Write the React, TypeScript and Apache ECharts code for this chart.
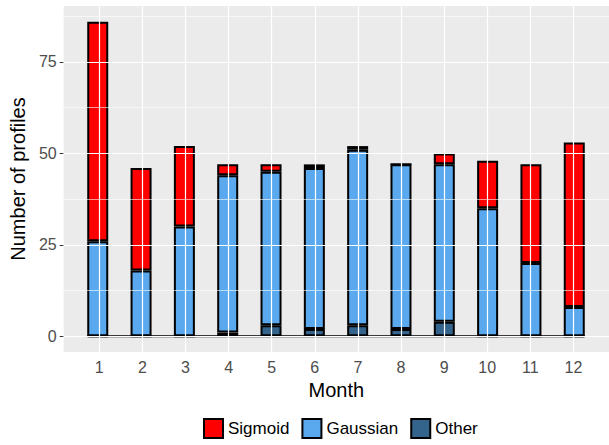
import React, { useEffect, useRef } from "react";
import * as echarts from "echarts";

const months = [1, 2, 3, 4, 5, 6, 7, 8, 9, 10, 11, 12];
const monthLabels = months.map(String);
const otherValues = [0, 0, 0, 1, 3, 2, 3, 2, 4, 0, 0, 0];
const gaussianValues = [26, 18, 30, 43, 42, 44, 48, 45, 43, 35, 20, 8];
const sigmoidValues = [60, 28, 22, 3, 2, 1, 1, 0, 3, 13, 27, 45];
const yTicks = [0, 25, 50, 75];
const yMinor = [12.5, 37.5, 62.5, 87.5];

const FONT = "'Liberation Sans', Arial, Helvetica, sans-serif";
const X_MIN = 0.175;
const X_MAX = 12.825;
const Y_MIN = -4.3;
const Y_MAX = 90.3;
const PANEL_LEFT = 62;
const PANEL_W = 548;
const UNIT = PANEL_W / (X_MAX - X_MIN);

export default function App() {
  const ref = useRef<HTMLDivElement>(null);
  useEffect(() => {
    if (!ref.current) return;
    const chart = echarts.init(ref.current, null, { renderer: "svg" });
    const mkBar = (name: string, vals: number[], color: string) => ({
      name,
      type: "bar",
      stack: "total",
      xAxisIndex: 1,
      yAxisIndex: 1,
      barWidth: 21,
      z: 3,
      data: vals,
      itemStyle: { color, borderColor: "#000", borderWidth: 2 },
      emphasis: { disabled: true },
    });
    const option: any = {
      animation: false,
      backgroundColor: "#fff",
      textStyle: { fontFamily: FONT },
      grid: [
        { left: PANEL_LEFT, top: 6, width: PANEL_W, height: 346, containLabel: false },
        {
          left: PANEL_LEFT + (0.5 - X_MIN) * UNIT,
          top: 6,
          width: 12 * UNIT,
          height: 346,
          containLabel: false,
        },
      ],
      legend: {
        left: 198,
        top: 413,
        data: ["Sigmoid", "Gaussian", "Other"],
        icon: "rect",
        itemWidth: 19,
        itemHeight: 19,
        itemGap: 12,
        selectedMode: false,
        textStyle: { fontSize: 17, color: "#000", fontFamily: FONT },
        itemStyle: { borderColor: "#000", borderWidth: 2 },
      },
      xAxis: [
        {
          type: "value",
          gridIndex: 0,
          min: X_MIN,
          max: X_MAX,
          name: "Month",
          nameLocation: "middle",
          nameGap: 22,
          nameTextStyle: { fontSize: 20, color: "#000", fontFamily: FONT },
          axisLine: { show: false },
          axisTick: { show: true, length: 4, lineStyle: { color: "#333", width: 1 }, customValues: months },
          axisLabel: { customValues: months, fontSize: 16, color: "#4D4D4D", margin: 7, fontFamily: FONT },
          splitLine: { show: false },
        },
        {
          type: "category",
          gridIndex: 1,
          data: monthLabels,
          show: false,
        },
      ],
      yAxis: [
        {
          type: "value",
          gridIndex: 0,
          min: Y_MIN,
          max: Y_MAX,
          name: "Number of profiles",
          nameLocation: "middle",
          nameGap: 34,
          nameTextStyle: { fontSize: 20, color: "#000", fontFamily: FONT },
          axisLine: { show: false },
          axisTick: { show: true, length: 4, lineStyle: { color: "#333", width: 1 }, customValues: yTicks },
          axisLabel: { customValues: yTicks, fontSize: 16, color: "#4D4D4D", margin: 7, fontFamily: FONT },
          splitLine: { show: false },
          splitArea: { show: false },
        },
        {
          type: "value",
          gridIndex: 1,
          min: Y_MIN,
          max: Y_MAX,
          show: false,
          splitLine: { show: false },
        },
      ],
      series: [
        {
          type: "line",
          xAxisIndex: 0,
          yAxisIndex: 0,
          z: 1,
          silent: true,
          data: [],
          markArea: {
            silent: true,
            itemStyle: { color: "#EBEBEB" },
            data: [[{ coord: [X_MIN, Y_MIN] }, { coord: [X_MAX, Y_MAX] }]],
          },
          markLine: {
            silent: true,
            symbol: "none",
            label: { show: false },
            data: [
              ...yMinor.map((v) => ({ yAxis: v, lineStyle: { color: "#fff", width: 0.6, type: "solid" } })),
              ...yTicks.map((v) => ({ yAxis: v, lineStyle: { color: "#fff", width: 1.2, type: "solid" } })),
              ...months.map((m) => ({ xAxis: m, lineStyle: { color: "#fff", width: 1.2, type: "solid" } })),
            ],
          },
        },
        mkBar("Other", otherValues, "#34638C"),
        mkBar("Gaussian", gaussianValues, "#5AA9EE"),
        mkBar("Sigmoid", sigmoidValues, "#FF0000"),
        {
          type: "line",
          xAxisIndex: 0,
          yAxisIndex: 0,
          z: 4,
          silent: true,
          symbol: "none",
          data: [[0.75, 0], [12.25, 0]],
          lineStyle: { color: "#000", width: 2 },
        },
      ],
    };
    chart.setOption(option);
    return () => chart.dispose();
  }, []);
  return <div ref={ref} style={{ width: 609, height: 445, position: "absolute", left: 0, top: 0 }} />;
}
